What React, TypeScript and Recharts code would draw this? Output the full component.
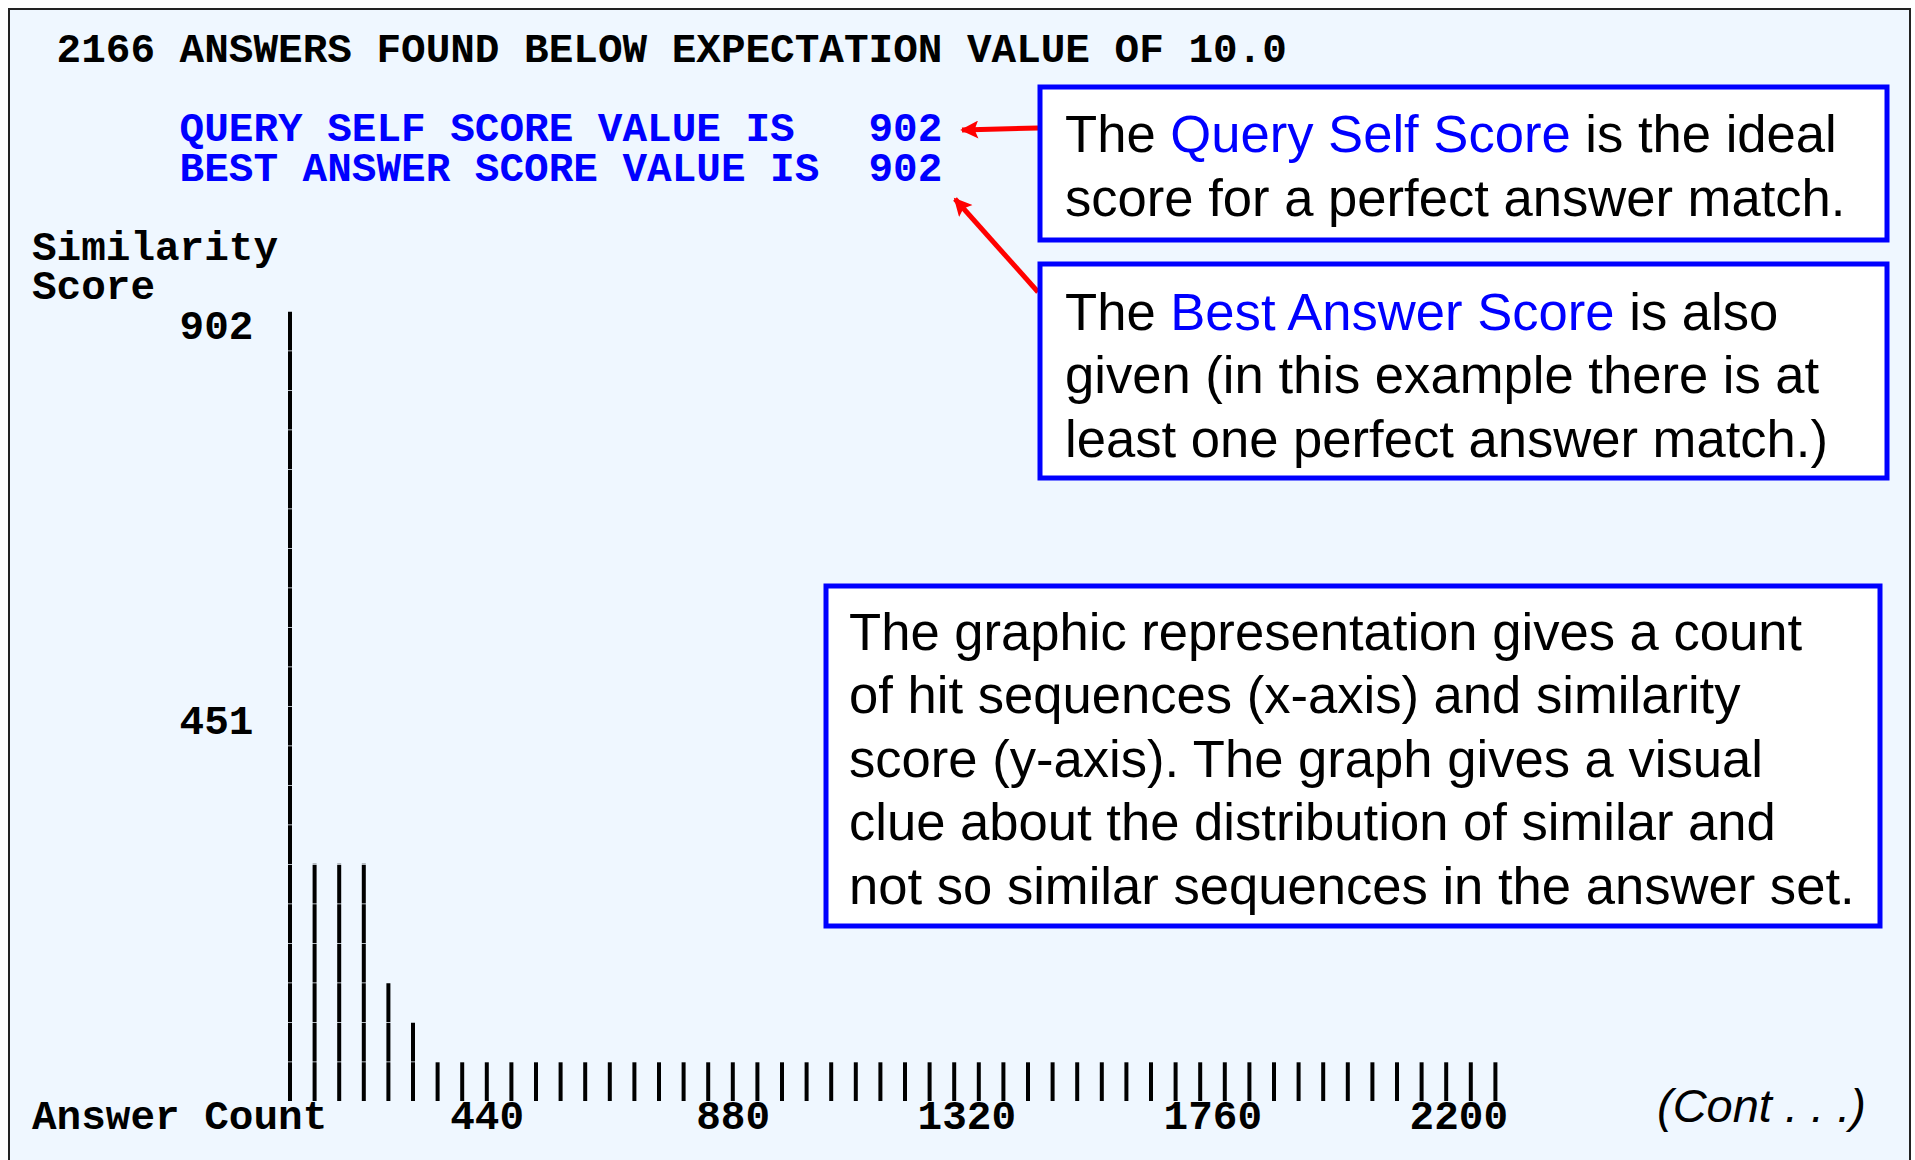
import React from 'react';
import { BarChart, Bar, XAxis, YAxis } from 'recharts';

// ---- data ----
const answerCounts = [
  44, 88, 132, 176, 220, 264, 308, 352, 396, 440,
  484, 528, 572, 616, 660, 704, 748, 792, 836, 880,
  924, 968, 1012, 1056, 1100, 1144, 1188, 1232, 1276, 1320,
  1364, 1408, 1452, 1496, 1540, 1584, 1628, 1672, 1716, 1760,
  1804, 1848, 1892, 1936, 1980, 2024, 2068, 2112, 2156, 2200,
];
const similarityScores = [
  902, 271, 271, 271, 135, 90,
  45, 45, 45, 45, 45, 45, 45, 45, 45, 45, 45,
  45, 45, 45, 45, 45, 45, 45, 45, 45, 45, 45,
  45, 45, 45, 45, 45, 45, 45, 45, 45, 45, 45,
  45, 45, 45, 45, 45, 45, 45, 45, 45, 45, 45,
];
const xTickLabels = [440, 880, 1320, 1760, 2200];
const yTickLabels = [451, 902];
const yMax = 902;

const data = answerCounts.map((c, i) => ({ count: c, score: similarityScores[i] }));

// ---- layout ----
const W = 1915;
const H = 1160;
const CW = 24.6; // monospace char width
const ROW = 39.5; // text row height
const COL0 = 32;
const rowBase = (r: number) => 62 + ROW * r;
const colX = (c: number) => COL0 + CW * c;
const plotLeft = colX(10);
const plotRight = plotLeft + 50 * CW;
const plotTop = 311;
const plotBottom = 1101;

const MONO = '"Liberation Mono", "Courier New", monospace';
const SANS = '"Liberation Sans", Arial, Helvetica, sans-serif';
const BLUE = '#0000FF';
const SANS_SIZE = 52.6;

const XTick = (props: any) => {
  const { x, y, payload } = props;
  if (!xTickLabels.includes(payload.value)) return <g />;
  return (
    <text x={x + CW / 2} y={y + 27.5} textAnchor="end" fontFamily={MONO} fontWeight="bold" fontSize={41} fill="#000">
      {payload.value}
    </text>
  );
};

const YTick = (props: any) => {
  const { x, y, payload } = props;
  return (
    <text x={x - CW} y={y + 27.5} textAnchor="end" fontFamily={MONO} fontWeight="bold" fontSize={41} fill="#000">
      {payload.value}
    </text>
  );
};

const BarShape = (props: any) => {
  const { x, y, width, height } = props;
  if (!height || height <= 0) return <g />;
  const cx = x + width / 2;
  return (
    <line
      x1={cx}
      x2={cx}
      y1={y + height}
      y2={y}
      stroke="#000"
      strokeWidth={4}
      strokeDasharray={`${ROW - 0.8} 0.8`}
    />
  );
};

const MonoText = ({ c, r, children, fill = '#000' }: any) => (
  <text x={colX(c)} y={rowBase(r)} fontFamily={MONO} fontWeight="bold" fontSize={41} fill={fill} style={{ whiteSpace: 'pre' }}>
    {children}
  </text>
);

export default function App() {
  return (
    <div style={{ position: 'absolute', left: 0, top: 0, width: W, height: H, overflow: 'hidden', background: '#fff' }}>
      <div
        style={{
          position: 'absolute',
          left: 8,
          top: 8,
          width: 1903,
          height: H,
          border: '2px solid #222',
          background: '#EFF7FF',
          boxSizing: 'border-box',
        }}
      />
      <div style={{ position: 'absolute', left: 0, top: 0 }}>
        <BarChart
          width={W}
          height={H}
          data={data}
          margin={{ top: plotTop, right: W - plotRight, bottom: H - plotBottom - 30, left: plotLeft - 60 }}
          barCategoryGap={0}
        >
          <XAxis
            dataKey="count"
            type="category"
            interval={0}
            height={30}
            axisLine={false}
            tickLine={false}
            tickSize={0}
            tickMargin={0}
            tick={<XTick />}
          />
          <YAxis
            type="number"
            domain={[0, yMax]}
            ticks={yTickLabels}
            width={60}
            axisLine={false}
            tickLine={false}
            tickSize={0}
            tickMargin={0}
            tick={<YTick />}
          />
          <Bar dataKey="score" barSize={4} fill="#000" isAnimationActive={false} shape={<BarShape />} />
        </BarChart>
      </div>
      <svg width={W} height={H} style={{ position: 'absolute', left: 0, top: 0, pointerEvents: 'none' }}>
        <defs>
          <marker id="ah" viewBox="0 0 10 10" refX="9" refY="5" markerUnits="userSpaceOnUse" markerWidth="22" markerHeight="18" orient="auto">
            <path d="M0,0 L10,5 L0,10 L2,5 z" fill="#FF0000" />
          </marker>
        </defs>
        <MonoText c={1} r={0}>2166 ANSWERS FOUND BELOW EXPECTATION VALUE OF 10.0</MonoText>
        <MonoText c={6} r={2} fill={BLUE}>{'QUERY SELF SCORE VALUE IS   902'}</MonoText>
        <MonoText c={6} r={3} fill={BLUE}>{'BEST ANSWER SCORE VALUE IS  902'}</MonoText>
        <MonoText c={0} r={5}>Similarity</MonoText>
        <MonoText c={0} r={6}>Score</MonoText>
        <MonoText c={0} r={27}>Answer Count</MonoText>

        {/* arrows */}
        <line x1={1038} y1={128} x2={962} y2={130} stroke="#FF0000" strokeWidth={5} markerEnd="url(#ah)" />
        <line x1={1038} y1={292} x2={955} y2={199} stroke="#FF0000" strokeWidth={5} markerEnd="url(#ah)" />

        {/* box 1 */}
        <rect x={1040} y={87} width={847} height={153} fill="#fff" stroke={BLUE} strokeWidth={5} />
        <text fontFamily={SANS} fontSize={SANS_SIZE} fill="#000">
          <tspan x={1065} y={151.5}>The <tspan fill={BLUE}>Query Self Score</tspan> is the ideal</tspan>
          <tspan x={1065} y={216}>score for a perfect answer match.</tspan>
        </text>

        {/* box 2 */}
        <rect x={1040} y={264} width={847} height={214} fill="#fff" stroke={BLUE} strokeWidth={5} />
        <text fontFamily={SANS} fontSize={SANS_SIZE} fill="#000">
          <tspan x={1065} y={330}>The <tspan fill={BLUE}>Best Answer Score</tspan> is also</tspan>
          <tspan x={1065} y={393}>given (in this example there is at</tspan>
          <tspan x={1065} y={457}>least one perfect answer match.)</tspan>
        </text>

        {/* box 3 */}
        <rect x={826} y={586} width={1054} height={340} fill="#fff" stroke={BLUE} strokeWidth={5} />
        <text fontFamily={SANS} fontSize={SANS_SIZE} fill="#000">
          <tspan x={849} y={650}>The graphic representation gives a count</tspan>
          <tspan x={849} y={713}>of hit sequences (x-axis) and similarity</tspan>
          <tspan x={849} y={777}>score (y-axis). The graph gives a visual</tspan>
          <tspan x={849} y={840}>clue about the distribution of similar and</tspan>
          <tspan x={849} y={904}>not so similar sequences in the answer set.</tspan>
        </text>

        <text x={1657} y={1122} fontFamily={SANS} fontStyle="italic" fontSize={47} fill="#000">
          (Cont . . .)
        </text>
      </svg>
    </div>
  );
}
